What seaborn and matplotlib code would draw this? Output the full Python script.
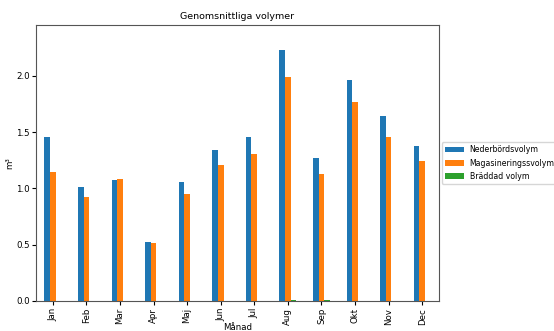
import matplotlib
matplotlib.use("Agg")
import matplotlib.pyplot as plt
import seaborn as sns
import pandas as pd

months = ["Jan", "Feb", "Mar", "Apr", "Maj", "Jun", "Jul", "Aug", "Sep", "Okt", "Nov", "Dec"]
nederbord = [1.452, 1.011, 1.073, 0.527, 1.058, 1.336, 1.458, 2.225, 1.265, 1.962, 1.638, 1.380]
magasinering = [1.144, 0.924, 1.082, 0.518, 0.954, 1.203, 1.309, 1.991, 1.129, 1.763, 1.452, 1.242]
braddad = [0.0, 0.0, 0.0, 0.0, 0.0, 0.0, 0.0, 0.012, 0.006, 0.0, 0.0, 0.0]
series_names = ["Nederbördsvolym", "Magasineringssvolym", "Bräddad volym"]
colors = ["#1f77b4", "#ff7f0e", "#2ca02c"]

rows = []
for name, vals in zip(series_names, [nederbord, magasinering, braddad]):
    for m, v in zip(months, vals):
        rows.append({"Månad": m, "Serie": name, "Volym": v})
df = pd.DataFrame(rows)

plt.rcParams["font.family"] = ["DejaVu Sans"]
plt.rcParams["font.size"] = 6.2

fig = plt.figure(figsize=(5.54, 3.31), dpi=100)
ax = fig.add_axes([36/554, 1-301/331, (439-36)/554, (301-25)/331])

sns.barplot(data=df, x="Månad", y="Volym", hue="Serie", hue_order=series_names,
            order=months, palette=colors, width=0.5, saturation=1, linewidth=0,
            errorbar=None, ax=ax)

ax.set_ylim(0, 2.45)
ax.set_xlim(-0.5, 11.5)
ax.set_yticks([0.0, 0.5, 1.0, 1.5, 2.0])
ax.set_yticklabels(["0.0", "0.5", "1.0", "1.5", "2.0"])
ax.tick_params(axis="x", rotation=90, length=3, pad=2)
ax.tick_params(axis="y", length=3, pad=1.5)
for s in ax.spines.values():
    s.set_color("#555555")
    s.set_linewidth(0.8)
ax.set_title("Genomsnittliga volymer", fontsize=6.8, pad=4)
ax.set_xlabel("Månad")
ax.set_ylabel("m³")
ax.yaxis.set_label_coords(-(36-14)/403, 0.5)
ax.xaxis.set_label_coords(0.5, -(328-301)/276)
ax.xaxis.label.set_va("center")

handles, labels = ax.get_legend_handles_labels()
ax.legend(handles, labels, loc="center left", bbox_to_anchor=(1.0, 0.5), fontsize=5.6,
          borderaxespad=0.35, handlelength=2.4, labelspacing=0.55)

fig.savefig("out.png", dpi=100)
